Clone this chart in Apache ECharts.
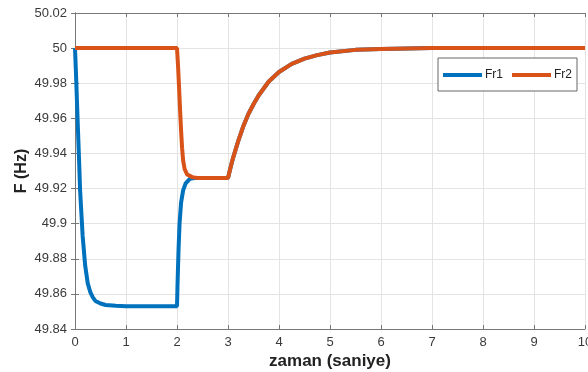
<!DOCTYPE html>
<html>
<head>
<meta charset="utf-8">
<style>
  html, body { margin: 0; padding: 0; background: #fff; }
  #chart { width: 588px; height: 372px; }
</style>
<script src="https://cdn.jsdelivr.net/npm/echarts@6/dist/echarts.min.js"></script>
</head>
<body>
<div id="chart"></div>
<script>
  // time (s) and frequency (Hz)
  const fr1Time = [0, 0.02, 0.05, 0.08, 0.1, 0.15, 0.2, 0.25, 0.3, 0.35, 0.4, 0.5, 0.6, 0.8, 1.0, 2.0,
    2.01, 2.03, 2.05, 2.08, 2.12, 2.17, 2.25, 2.35, 3.0,
    3.05, 3.1, 3.2, 3.3, 3.4, 3.5, 3.6, 3.8, 4.0, 4.25, 4.5, 4.75, 5.0, 5.5, 6.0, 7.0, 8.0, 9.0, 10.0];
  const fr1Value = [50.0, 49.985, 49.96, 49.936, 49.919, 49.893, 49.876, 49.866, 49.861, 49.858, 49.856, 49.8545, 49.8537, 49.8532, 49.853, 49.853,
    49.865, 49.885, 49.9, 49.912, 49.919, 49.923, 49.9255, 49.926, 49.926,
    49.932, 49.9375, 49.947, 49.9555, 49.9625, 49.968, 49.973, 49.981, 49.9864, 49.991, 49.994, 49.996, 49.9975, 49.999, 49.9995, 50.0, 50.0, 50.0, 50.0];

  const fr2Time = [0, 1.0, 2.0, 2.02, 2.04, 2.06, 2.08, 2.1, 2.12, 2.15, 2.2, 2.3, 2.4, 3.0,
    3.05, 3.1, 3.2, 3.3, 3.4, 3.5, 3.6, 3.8, 4.0, 4.25, 4.5, 4.75, 5.0, 5.5, 6.0, 7.0, 8.0, 9.0, 10.0];
  const fr2Value = [50.0, 50.0, 50.0, 49.99, 49.978, 49.965, 49.953, 49.943, 49.936, 49.931, 49.928, 49.9265, 49.926, 49.926,
    49.932, 49.9375, 49.947, 49.9555, 49.9625, 49.968, 49.973, 49.981, 49.9864, 49.991, 49.994, 49.996, 49.9975, 49.999, 49.9995, 50.0, 50.0, 50.0, 50.0];

  const xTicks = [0, 1, 2, 3, 4, 5, 6, 7, 8, 9, 10];
  const yTicks = ['49.84', '49.86', '49.88', '49.9', '49.92', '49.94', '49.96', '49.98', '50', '50.02'];

  const pairs = (t, v) => t.map((x, i) => [x, v[i]]);

  const chart = echarts.init(document.getElementById('chart'), null, { renderer: 'canvas' });

  const labelStyle = { color: '#3a3a3a', fontSize: 13, fontFamily: 'Liberation Sans, Arial, sans-serif' };
  const frame = { show: true, lineStyle: { color: '#777', width: 1 } };
  const ticksIn = { show: true, inside: true, length: 4, lineStyle: { color: '#777' } };

  chart.setOption({
    animation: false,
    backgroundColor: '#fff',
    textStyle: { fontFamily: 'Liberation Sans, Arial, sans-serif' },
    grid: { left: 75, right: 3, top: 13, bottom: 43, containLabel: false, outerBoundsMode: 'none' },
    legend: {
      left: 438,
      top: 58,
      data: ['Fr1', 'Fr2'],
      icon: 'rect',
      itemWidth: 39,
      itemHeight: 4,
      itemGap: 9,
      padding: [11, 5, 10, 5],
      borderColor: '#666',
      borderWidth: 1,
      backgroundColor: '#fff',
      textStyle: { color: '#222', fontSize: 12, padding: [0, 0, 0, -2] }
    },
    xAxis: [{
      type: 'value',
      min: 0,
      max: 10,
      interval: 1,
      name: 'zaman (saniye)',
      nameLocation: 'middle',
      nameGap: 24,
      nameMoveOverlap: false,
      nameTextStyle: { color: '#222', fontSize: 17, fontWeight: 'bold' },
      axisLine: frame,
      axisTick: ticksIn,
      axisLabel: Object.assign({ margin: 7, formatter: v => String(xTicks[v]) }, labelStyle),
      splitLine: { show: true, lineStyle: { color: '#e4e4e4' } }
    }, {
      type: 'value',
      position: 'top',
      min: 0,
      max: 10,
      interval: 1,
      axisLine: frame,
      axisTick: ticksIn,
      axisLabel: { show: false },
      splitLine: { show: false }
    }],
    yAxis: [{
      type: 'value',
      min: 49.84,
      max: 50.02,
      interval: 0.02,
      name: 'F (Hz)',
      nameLocation: 'middle',
      nameGap: 45,
      nameMoveOverlap: false,
      nameTextStyle: { color: '#222', fontSize: 16, fontWeight: 'bold' },
      axisLine: frame,
      axisTick: ticksIn,
      axisLabel: Object.assign({
        margin: 8,
        formatter: v => yTicks[Math.round((v - 49.84) / 0.02)]
      }, labelStyle),
      splitLine: { show: true, lineStyle: { color: '#e4e4e4' } }
    }, {
      type: 'value',
      position: 'right',
      min: 49.84,
      max: 50.02,
      interval: 0.02,
      axisLine: frame,
      axisTick: ticksIn,
      axisLabel: { show: false },
      splitLine: { show: false }
    }],
    series: [{
      name: 'Fr1',
      type: 'line',
      data: pairs(fr1Time, fr1Value),
      showSymbol: false,
      symbol: 'none',
      color: '#0072BD',
      lineStyle: { width: 4, color: '#0072BD' }
    }, {
      name: 'Fr2',
      type: 'line',
      data: pairs(fr2Time, fr2Value),
      showSymbol: false,
      symbol: 'none',
      color: '#D95319',
      lineStyle: { width: 4, color: '#D95319' }
    }]
  });
</script>
</body>
</html>
